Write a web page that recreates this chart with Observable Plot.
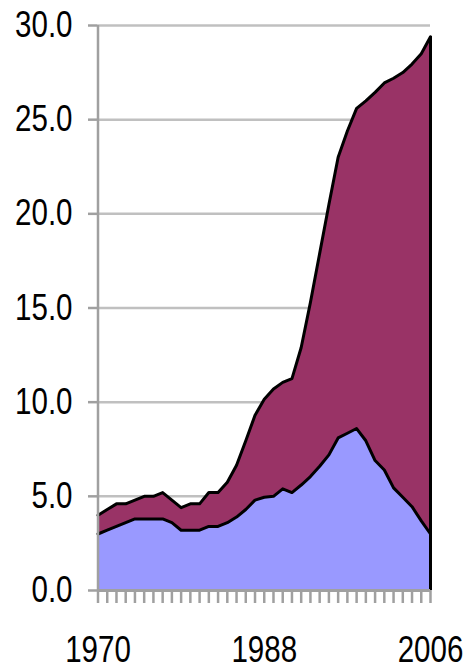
<!DOCTYPE html>
<html>
<head>
<meta charset="utf-8">
<script src="https://cdn.jsdelivr.net/npm/d3@7"></script>
<script src="https://cdn.jsdelivr.net/npm/@observablehq/plot@0.6"></script>
<style>
  html, body { margin: 0; padding: 0; background: #fff; }
  #chart svg { display: block; }
</style>
</head>
<body>
<div id="chart"></div>
<script>
const years = [1970, 1971, 1972, 1973, 1974, 1975, 1976, 1977, 1978, 1979,
               1980, 1981, 1982, 1983, 1984, 1985, 1986, 1987, 1988, 1989,
               1990, 1991, 1992, 1993, 1994, 1995, 1996, 1997, 1998, 1999,
               2000, 2001, 2002, 2003, 2004, 2005, 2006];
const lowerSeries = [3.0, 3.2, 3.4, 3.6, 3.8, 3.8, 3.8, 3.8, 3.6, 3.2,
                     3.2, 3.2, 3.4, 3.4, 3.6, 3.9, 4.3, 4.8, 4.95, 5.0,
                     5.4, 5.2, 5.6, 6.05, 6.6, 7.2, 8.1, 8.35, 8.6, 7.95,
                     6.9, 6.4, 5.45, 4.95, 4.45, 3.7, 3.0];
const totalSeries = [4.0, 4.3, 4.6, 4.6, 4.8, 5.0, 5.0, 5.2, 4.8, 4.4,
                     4.6, 4.6, 5.2, 5.2, 5.75, 6.65, 7.95, 9.3, 10.15, 10.7,
                     11.05, 11.25, 12.9, 15.3, 17.9, 20.5, 23.0, 24.4, 25.6, 26.0,
                     26.45, 26.95, 27.2, 27.5, 27.95, 28.5, 29.4];
const yTicks = [0, 5, 10, 15, 20, 25, 30];
const xLabels = [1970, 1988, 2006];

const rows = years.map((yr, i) => ({year: yr, lower: lowerSeries[i], total: totalSeries[i]}));
const last = rows[rows.length - 1];

const font = "'Liberation Sans', Arial, sans-serif";

const chart = Plot.plot({
  width: 465,
  height: 671,
  marginLeft: 97.5,
  marginRight: 35,
  marginTop: 25,
  marginBottom: 81,
  style: {fontFamily: font, background: "#fff"},
  x: {domain: [years[0], years[years.length - 1]], axis: null, label: null},
  y: {domain: [0, 30], axis: null, label: null},
  marks: [
    Plot.ruleY(yTicks.filter(d => d > 0), {stroke: "#c0c0c0", strokeWidth: 2.5}),
    Plot.areaY(rows, {x: "year", y1: 0, y2: "lower", fill: "#9999ff"}),
    Plot.areaY(rows, {x: "year", y1: "lower", y2: "total", fill: "#993366"}),
    Plot.lineY(rows, {x: "year", y: "lower", stroke: "#000", strokeWidth: 3, strokeLinejoin: "round"}),
    Plot.lineY(rows, {x: "year", y: "total", stroke: "#000", strokeWidth: 3, strokeLinejoin: "round"}),
    Plot.ruleX([last], {x: "year", y1: 0, y2: "total", stroke: "#000", strokeWidth: 3}),
    Plot.ruleX([years[0]], {stroke: "#a0a0a0", strokeWidth: 2.5}),
    Plot.ruleY([0], {stroke: "#a0a0a0", strokeWidth: 3}),
    Plot.axisY({ticks: yTicks, tickFormat: d => d.toFixed(1), tickSize: 9.5, tickPadding: 16,
                stroke: "#a0a0a0", strokeWidth: 2.5, fontSize: 36, fill: "#000", label: null}),
    Plot.axisX({ticks: years, tickFormat: () => "", tickSize: 13, tickPadding: 0,
                stroke: "#a0a0a0", strokeWidth: 2.5, label: null}),
    Plot.axisX({ticks: xLabels, tickFormat: d => String(d), tickSize: 0, tickPadding: 46,
                fontSize: 36, fill: "#000", label: null})
  ]
});

document.getElementById("chart").appendChild(chart);

// condense the tick-label glyphs horizontally (the reference uses a narrow face)
chart.querySelectorAll("text").forEach(t => {
  const len = t.getComputedTextLength();
  if (len > 0) {
    t.setAttribute("textLength", (len * 0.82).toFixed(2));
    t.setAttribute("lengthAdjust", "spacingAndGlyphs");
  }
});
</script>
</body>
</html>
